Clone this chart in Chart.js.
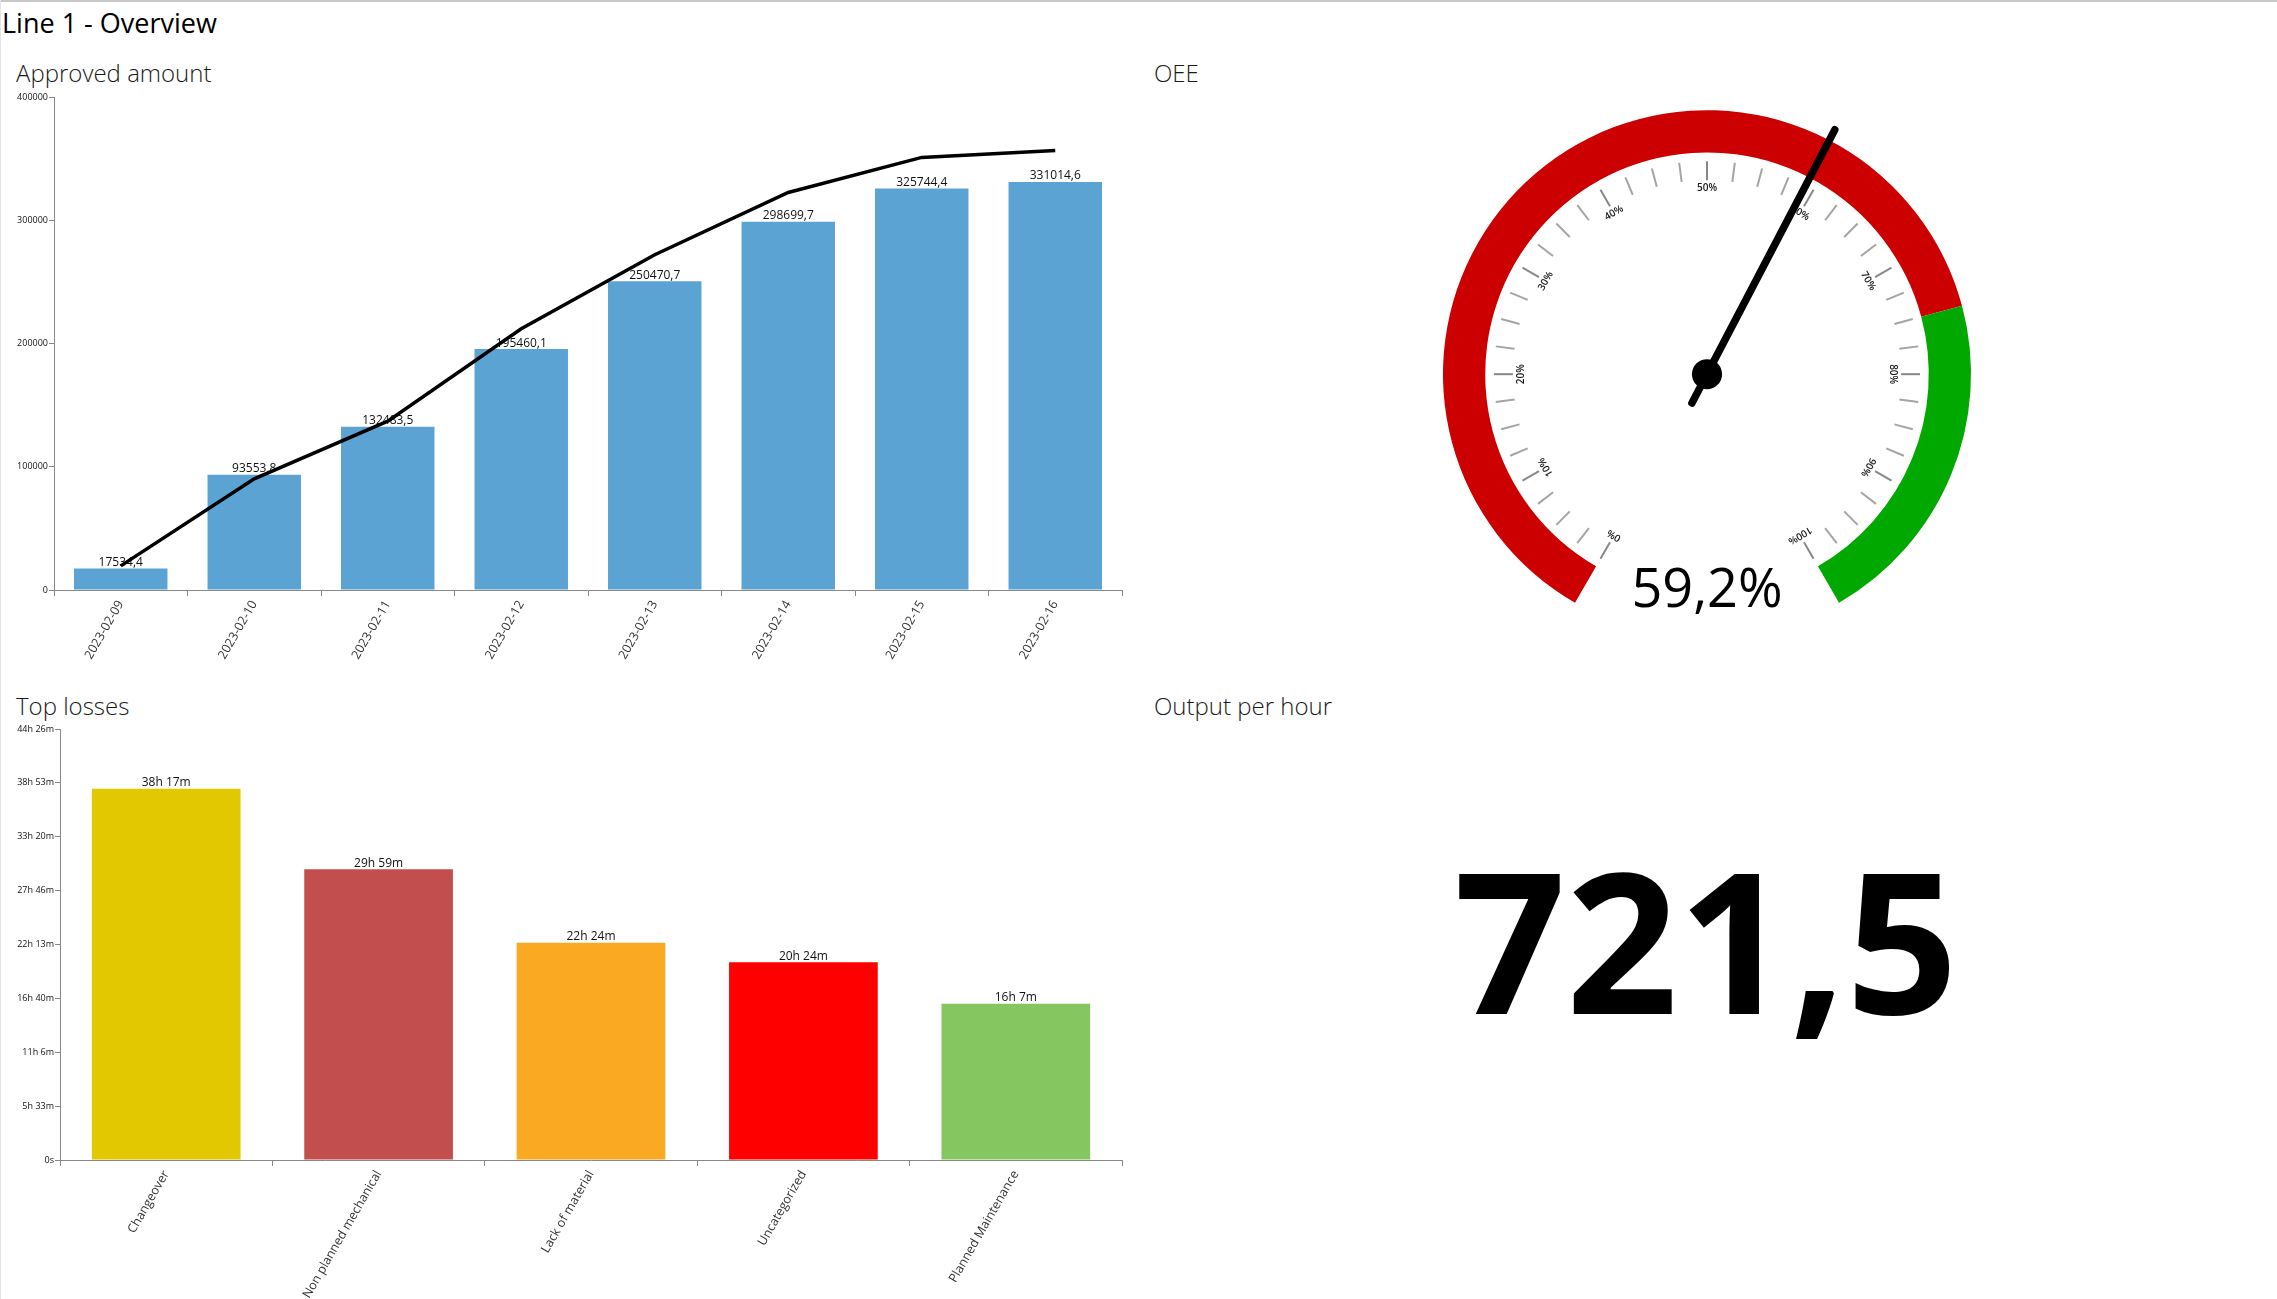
<!DOCTYPE html>
<html>
<head>
<meta charset="utf-8">
<title>Line 1 - Overview</title>
<script src="https://cdn.jsdelivr.net/npm/chart.js@4.4.1/dist/chart.umd.min.js"></script>
<style>
    body { margin: 0; width: 2277px; height: 1299px; position: relative; overflow: hidden; background: #fff; font-family: "Open Sans", sans-serif; color: #000; }
    .topo { position: absolute; left: 0; top: 0; width: 2277px; height: 2px; background: #c8c8c8; }
    .lateral { position: absolute; left: 0; top: 0; width: 1px; height: 1299px; background: #e4e4e4; }
    .titulo { position: absolute; font-size: 24px; font-weight: 300; line-height: 1; color: #1a1a1a; white-space: nowrap; }
    #tituloPagina { position: absolute; left: 2px; top: 9px; font-size: 27px; line-height: 1; white-space: nowrap; }
    #saida { position: absolute; left: 1306px; top: 840px; width: 800px; text-align: center; font-size: 196px; font-weight: 700; line-height: 1; }
    canvas { position: absolute; }
</style>
</head>
<body>
<div class="topo"></div>
<div class="lateral"></div>
<div id="tituloPagina">Line 1 - Overview</div>
<div class="titulo" style="left:16px; top:61px;">Approved amount</div>
<div class="titulo" style="left:1154px; top:61px;">OEE</div>
<div class="titulo" style="left:16px; top:694px;">Top losses</div>
<div class="titulo" style="left:1154px; top:694px;">Output per hour</div>

<canvas id="graficoAprovado" width="1140" height="600" style="left:0; top:90px;"></canvas>
<canvas id="graficoOEE" width="608" height="593" style="left:1403px; top:70px;"></canvas>
<canvas id="graficoPerdas" width="1140" height="579" style="left:0; top:720px;"></canvas>
<div id="saida"></div>

<script>
let dias = ["2023-02-09", "2023-02-10", "2023-02-11", "2023-02-12", "2023-02-13", "2023-02-14", "2023-02-15", "2023-02-16"];
let valorAprovado = [17534.4, 93553.8, 132483.5, 195460.1, 250470.7, 298699.7, 325744.4, 331014.6];
let tendenciaAprovado = [19600, 90200, 137000, 212000, 272000, 322500, 351000, 356500];
let ticksAprovado = [0, 100000, 200000, 300000, 400000];

let motivosPerda = ["Changeover", "Non planned mechanical", "Lack of material", "Uncategorized", "Planned Maintenance"];
let segundosPerda = [137820, 107940, 80640, 73440, 58020];
let coresPerda = ["#E1C800", "#C24F4E", "#F9A922", "#FF0000", "#86C661"];
let ticksPerda = [0, 20000, 40000, 60000, 80000, 100000, 120000, 140000, 160000];

let oee = 59.2;
let faixasOEE = [75, 25];
let coresOEE = ["#CC0000", "#00A800"];
let rotulosOEE = [0, 10, 20, 30, 40, 50, 60, 70, 80, 90, 100];
let passoMarcaOEE = 2.5;

let saidaPorHora = 721.5;

Chart.defaults.font.family = "'Open Sans', sans-serif";
Chart.defaults.animation = false;
Chart.defaults.plugins.legend.display = false;
Chart.defaults.plugins.tooltip.enabled = false;

function formatarDecimal(valor) {
    return Number(valor).toFixed(1).replace(".", ",");
}

function formatarDuracao(segundos) {
    if (segundos === 0) return "0s";
    let horas = Math.floor(segundos / 3600);
    let minutos = Math.floor((segundos % 3600) / 60);
    return `${horas}h ${minutos}m`;
}

// escreve o valor em cima de cada barra
function criarRotulos(formato) {
    return {
        id: "rotulosBarras",
        afterDatasetDraw(chart, args) {
            if (args.index !== 0) return;
            let ctx = chart.ctx;
            ctx.save();
            ctx.font = "12px 'Open Sans'";
            ctx.fillStyle = "#111";
            ctx.textAlign = "center";
            ctx.textBaseline = "bottom";
            args.meta.data.forEach((barra, i) => {
                ctx.fillText(formato(chart.data.datasets[0].data[i]), barra.x, barra.y);
            });
            ctx.restore();
        }
    };
}

function eixoX(altura) {
    return {
        offset: true,
        grid: { drawOnChartArea: false, offset: true, tickLength: 6, color: "#888" },
        border: { color: "#888" },
        ticks: { minRotation: 60, maxRotation: 60, autoSkip: false, padding: 2, color: "#333", font: { size: 12.5 } },
        afterFit: escala => { escala.height = altura; }
    };
}

function eixoY(largura, ticks, formato) {
    return {
        min: ticks[0],
        max: ticks[ticks.length - 1],
        afterBuildTicks: escala => { escala.ticks = ticks.map(v => ({ value: v })); },
        grid: { drawOnChartArea: false, tickLength: 5, color: "#888" },
        border: { color: "#888" },
        ticks: { padding: 1, color: "#111", font: { size: 9 }, callback: formato },
        afterFit: escala => { escala.width = largura; }
    };
}

function desenharAprovado() {
    new Chart(document.getElementById("graficoAprovado"), {
        type: "bar",
        data: {
            labels: dias,
            datasets: [
                {
                    label: "Approved amount",
                    data: valorAprovado,
                    backgroundColor: "#5BA3D3",
                    barPercentage: 0.7,
                    categoryPercentage: 1,
                    order: 1
                },
                {
                    type: "line",
                    label: "Trend",
                    data: tendenciaAprovado,
                    borderColor: "#000",
                    borderWidth: 3.5,
                    pointRadius: 0,
                    tension: 0,
                    order: 0
                }
            ]
        },
        options: {
            responsive: false,
            devicePixelRatio: 1,
            layout: { padding: { top: 7, right: 18, left: 0, bottom: 0 } },
            scales: {
                x: eixoX(100),
                y: eixoY(54, ticksAprovado, v => String(v))
            }
        },
        plugins: [criarRotulos(formatarDecimal)]
    });
}

function desenharPerdas() {
    new Chart(document.getElementById("graficoPerdas"), {
        type: "bar",
        data: {
            labels: motivosPerda,
            datasets: [{
                label: "Top losses",
                data: segundosPerda,
                backgroundColor: coresPerda,
                barPercentage: 0.7,
                categoryPercentage: 1
            }]
        },
        options: {
            responsive: false,
            devicePixelRatio: 1,
            layout: { padding: { top: 9, right: 18, left: 0, bottom: 0 } },
            scales: {
                x: eixoX(139),
                y: eixoY(60, ticksPerda, v => formatarDuracao(v))
            }
        },
        plugins: [criarRotulos(formatarDuracao)]
    });
}

// marcas, ponteiro e valor do medidor
let medidor = {
    id: "medidor",
    afterDraw(chart) {
        let arcos = chart.getDatasetMeta(0).data;
        let cx = arcos[0].x, cy = arcos[0].y, r = arcos[0].outerRadius;
        let inicio = arcos[0].startAngle;
        let fim = arcos[arcos.length - 1].endAngle;
        let angulo = p => inicio + (fim - inicio) * p / 100;
        let ctx = chart.ctx;
        ctx.save();

        for (let p = 0; p <= 100; p += passoMarcaOEE) {
            let a = angulo(p);
            let grande = rotulosOEE.includes(p);
            ctx.beginPath();
            ctx.moveTo(cx + Math.cos(a) * r * 0.735, cy + Math.sin(a) * r * 0.735);
            ctx.lineTo(cx + Math.cos(a) * r * 0.807, cy + Math.sin(a) * r * 0.807);
            ctx.strokeStyle = grande ? "#888" : "#a4a4a4";
            ctx.lineWidth = 2;
            ctx.stroke();
        }

        ctx.font = "600 10px 'Open Sans'";
        ctx.fillStyle = "#1a1a1a";
        ctx.textAlign = "center";
        ctx.textBaseline = "middle";
        rotulosOEE.forEach(p => {
            let a = angulo(p);
            ctx.save();
            ctx.translate(cx + Math.cos(a) * r * 0.705, cy + Math.sin(a) * r * 0.705);
            ctx.rotate(a + Math.PI / 2);
            ctx.fillText(p + "%", 0, 0);
            ctx.restore();
        });

        let a = angulo(oee);
        ctx.beginPath();
        ctx.moveTo(cx - Math.cos(a) * r * 0.123, cy - Math.sin(a) * r * 0.123);
        ctx.lineTo(cx + Math.cos(a) * r * 1.045, cy + Math.sin(a) * r * 1.045);
        ctx.strokeStyle = "#000";
        ctx.lineWidth = 7.5;
        ctx.lineCap = "round";
        ctx.stroke();
        ctx.beginPath();
        ctx.arc(cx, cy, r * 0.057, 0, Math.PI * 2);
        ctx.fillStyle = "#000";
        ctx.fill();

        ctx.font = "54px 'Open Sans'";
        ctx.textBaseline = "alphabetic";
        ctx.fillText(formatarDecimal(oee) + "%", cx, cy + 233);
        ctx.restore();
    }
};

function desenharOEE() {
    new Chart(document.getElementById("graficoOEE"), {
        type: "doughnut",
        data: {
            labels: ["Abaixo", "Meta"],
            datasets: [{
                data: faixasOEE,
                backgroundColor: coresOEE,
                borderWidth: 0
            }]
        },
        options: {
            responsive: false,
            devicePixelRatio: 1,
            rotation: -150,
            circumference: 300,
            cutout: "84%",
            events: [],
            layout: { padding: { top: 40, right: 40, left: 40, bottom: 60 } }
        },
        plugins: [medidor]
    });
}

desenharAprovado();
desenharPerdas();
desenharOEE();
document.getElementById("saida").innerText = formatarDecimal(saidaPorHora);
</script>
</body>
</html>
